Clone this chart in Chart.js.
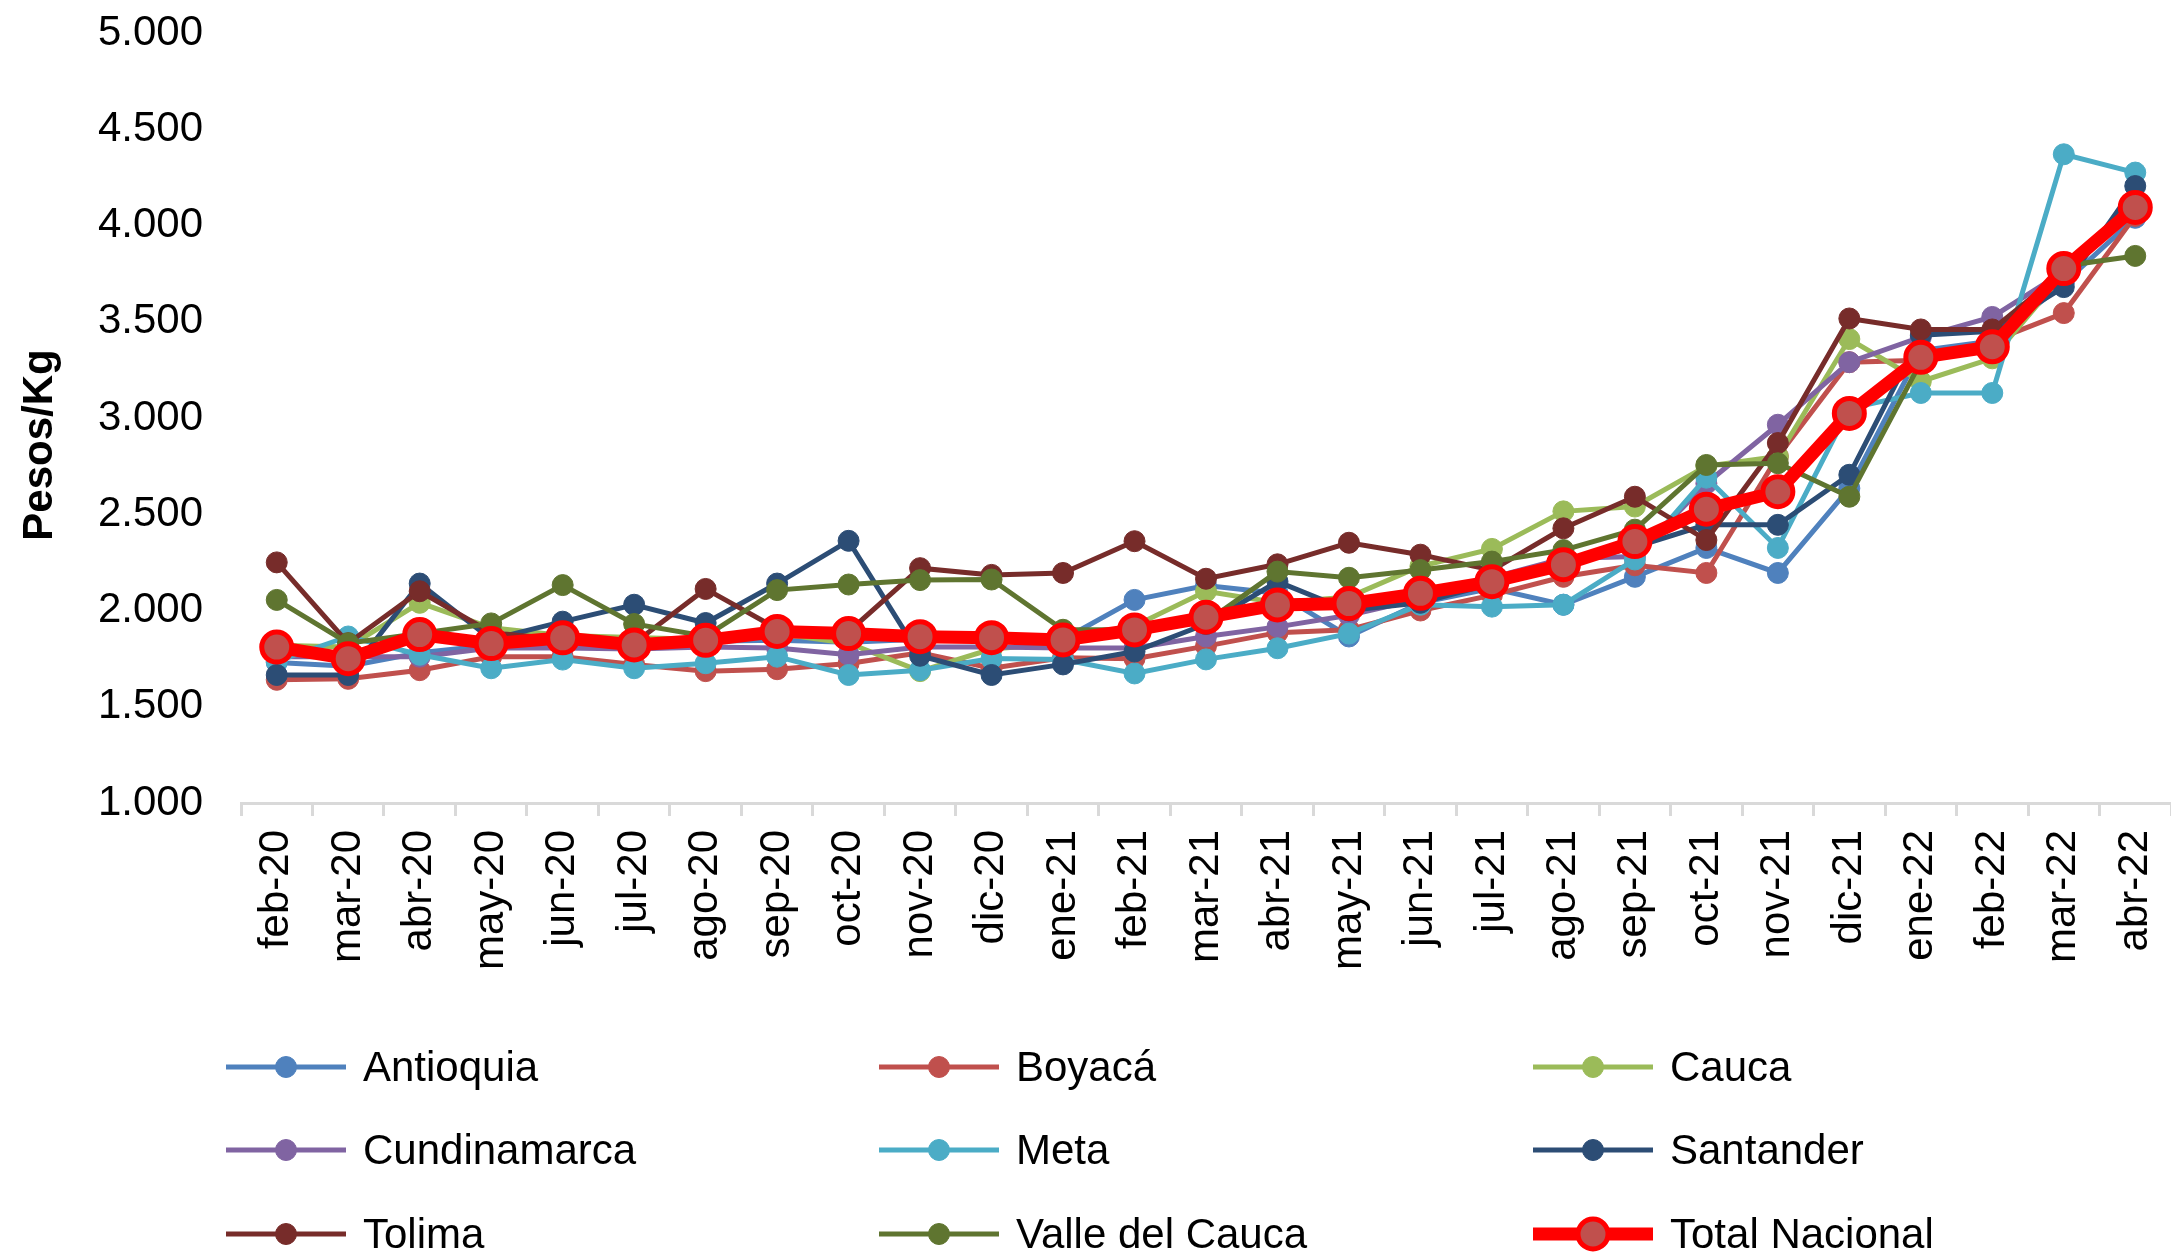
<!DOCTYPE html>
<html>
<head>
<meta charset="utf-8">
<script src="https://cdn.jsdelivr.net/npm/chart.js@4.4.0/dist/chart.umd.min.js"></script>
<style>
  html, body { margin: 0; padding: 0; background: #fff; }
</style>
</head>
<body>
<canvas id="grafico" width="2171" height="1254"></canvas>
<script>
// meses (eje x)
const meses = ['feb-20', 'mar-20', 'abr-20', 'may-20', 'jun-20', 'jul-20', 'ago-20', 'sep-20', 'oct-20',
  'nov-20', 'dic-20', 'ene-21', 'feb-21', 'mar-21', 'abr-21', 'may-21', 'jun-21', 'jul-21', 'ago-21',
  'sep-21', 'oct-21', 'nov-21', 'dic-21', 'ene-22', 'feb-22', 'mar-22', 'abr-22'];

// precios en pesos/kg por departamento
const antioquia = [1730, 1710, 1780, 1820, 1820, 1830, 1840, 1845, 1835, 1850, 1850, 1850, 2055, 2130,
  2090, 1865, 2040, 2115, 2030, 2175, 2325, 2195, 2635, 3350, 3400, 3700, 4040];
const boyaca = [1640, 1645, 1690, 1760, 1760, 1720, 1685, 1695, 1725, 1780, 1700, 1755, 1750, 1815,
  1885, 1900, 2000, 2080, 2175, 2235, 2195, 2800, 3290, 3300, 3400, 3545, 4050];
const cauca = [1820, 1810, 2040, 1910, 1870, 1860, 1850, 1880, 1830, 1685, 1800, 1830, 1920, 2100,
  2040, 2070, 2230, 2320, 2515, 2540, 2750, 2800, 3410, 3190, 3310, 3750, 4080];
const cundinamarca = [1760, 1760, 1760, 1805, 1805, 1800, 1810, 1805, 1770, 1810, 1810, 1805, 1805, 1865,
  1915, 1975, 2060, 2170, 2270, 2280, 2660, 2965, 3290, 3420, 3525, 3760, 4080];
const meta = [1735, 1865, 1770, 1700, 1745, 1700, 1726, 1760, 1665, 1690, 1750, 1745, 1673, 1746,
  1804, 1880, 2030, 2020, 2030, 2265, 2690, 2325, 3050, 3130, 3130, 4370, 4275];
const santander = [1665, 1665, 2140, 1850, 1942, 2030, 1935, 2140, 2362, 1765, 1665, 1720, 1787, 1930,
  2150, 2000, 2040, 2140, 2240, 2330, 2445, 2445, 2705, 3430, 3450, 3680, 4205];
const tolima = [2250, 1830, 2100, 1885, 1850, 1830, 2112, 1905, 1890, 2220, 2185, 2195, 2360, 2165,
  2240, 2352, 2290, 2210, 2427, 2591, 2366, 2870, 3517, 3460, 3460, 3760, 4100];
const valle = [2055, 1830, 1880, 1933, 2132, 1930, 1867, 2106, 2135, 2158, 2161, 1900, 1900, 1940,
  2202, 2170, 2210, 2254, 2314, 2420, 2756, 2765, 2591, 3290, 3380, 3790, 3842];
const totalNacional = [1810, 1750, 1875, 1828, 1858, 1821, 1845, 1891, 1880, 1864, 1859, 1847, 1899, 1965,
  2029, 2036, 2089, 2150, 2238, 2358, 2526, 2617, 3024, 3315, 3370, 3776, 4094];

const fuente = '"Liberation Sans", Arial, sans-serif';

function serie(nombre, valores, color, orden) {
  return {
    label: nombre,
    data: valores,
    borderColor: color,
    backgroundColor: color,
    borderWidth: 5,
    pointRadius: 10.5,
    pointHoverRadius: 10.5,
    pointBackgroundColor: color,
    pointBorderColor: color,
    pointBorderWidth: 1,
    tension: 0,
    order: orden
  };
}

const datasets = [
  serie('Antioquia', antioquia, '#4F81BD', 9),
  serie('Boyacá', boyaca, '#C0504D', 8),
  serie('Cauca', cauca, '#9BBB59', 7),
  serie('Cundinamarca', cundinamarca, '#8064A2', 6),
  serie('Meta', meta, '#4BACC6', 5),
  serie('Santander', santander, '#2C4D75', 4),
  serie('Tolima', tolima, '#772C2A', 3),
  serie('Valle del Cauca', valle, '#5F7530', 2),
  {
    label: 'Total Nacional',
    data: totalNacional,
    borderColor: '#FF0000',
    backgroundColor: '#FF0000',
    borderWidth: 13,
    pointRadius: 15,
    pointHoverRadius: 15,
    pointBackgroundColor: '#C0504D',
    pointBorderColor: '#FF0000',
    pointBorderWidth: 5,
    tension: 0,
    order: 1
  }
];

// leyenda en cuadricula 3x3 y titulo del eje y, como en el original
const leyendaGrid = {
  id: 'leyendaGrid',
  afterDraw(chart) {
    const ctx = chart.ctx;
    const colX = [226, 879, 1533];
    const rowY = [1067, 1150, 1234];
    chart.data.datasets.forEach((ds, i) => {
      const x = colX[i % 3];
      const y = rowY[Math.floor(i / 3)];
      ctx.save();
      ctx.strokeStyle = ds.borderColor;
      ctx.lineWidth = ds.borderWidth;
      ctx.beginPath();
      ctx.moveTo(x, y);
      ctx.lineTo(x + 120, y);
      ctx.stroke();
      ctx.beginPath();
      ctx.arc(x + 60, y, ds.pointRadius, 0, 2 * Math.PI);
      ctx.fillStyle = ds.pointBackgroundColor;
      ctx.fill();
      ctx.lineWidth = ds.pointBorderWidth;
      ctx.strokeStyle = ds.pointBorderColor;
      ctx.stroke();
      ctx.fillStyle = '#000';
      ctx.font = '42px ' + fuente;
      ctx.textBaseline = 'middle';
      ctx.fillText(ds.label, x + 137, y + 2);
      ctx.restore();
    });

    ctx.save();
    ctx.translate(40, 445);
    ctx.rotate(-Math.PI / 2);
    ctx.fillStyle = '#000';
    ctx.font = 'bold 42px ' + fuente;
    ctx.textAlign = 'center';
    ctx.textBaseline = 'middle';
    ctx.fillText('Pesos/Kg', 0, 0);
    ctx.restore();
  }
};

const config = {
  type: 'line',
  data: { labels: meses, datasets: datasets },
  options: {
    responsive: false,
    animation: false,
    layout: { autoPadding: false, padding: { top: 33, right: 0, bottom: 251, left: 0 } },
    plugins: {
      legend: { display: false },
      tooltip: { enabled: false }
    },
    scales: {
      x: {
        offset: true,
        grid: {
          offset: true,
          drawOnChartArea: false,
          drawTicks: true,
          tickLength: 13,
          color: '#D9D9D9',
          lineWidth: 3
        },
        border: { display: true, color: '#D9D9D9', width: 3 },
        ticks: {
          color: '#000',
          font: { family: fuente, size: 42 },
          minRotation: 90,
          maxRotation: 90,
          autoSkip: false,
          padding: 14
        },
        afterFit(scale) {
          scale.height = 200;
          scale.paddingLeft = 0;
          scale.paddingRight = 0;
        }
      },
      y: {
        min: 1000,
        max: 5000,
        grid: { display: false, drawTicks: false },
        border: { display: false },
        ticks: {
          stepSize: 500,
          color: '#000',
          font: { family: fuente, size: 42 },
          padding: 38,
          callback: (v) => v.toFixed(0).replace(/\B(?=(\d{3})+(?!\d))/g, '.')
        },
        afterFit(scale) {
          scale.width = 241;
          scale.paddingTop = 0;
          scale.paddingBottom = 0;
        }
      }
    }
  },
  plugins: [leyendaGrid]
};

const grafico = new Chart(document.getElementById('grafico'), config);
</script>
</body>
</html>
